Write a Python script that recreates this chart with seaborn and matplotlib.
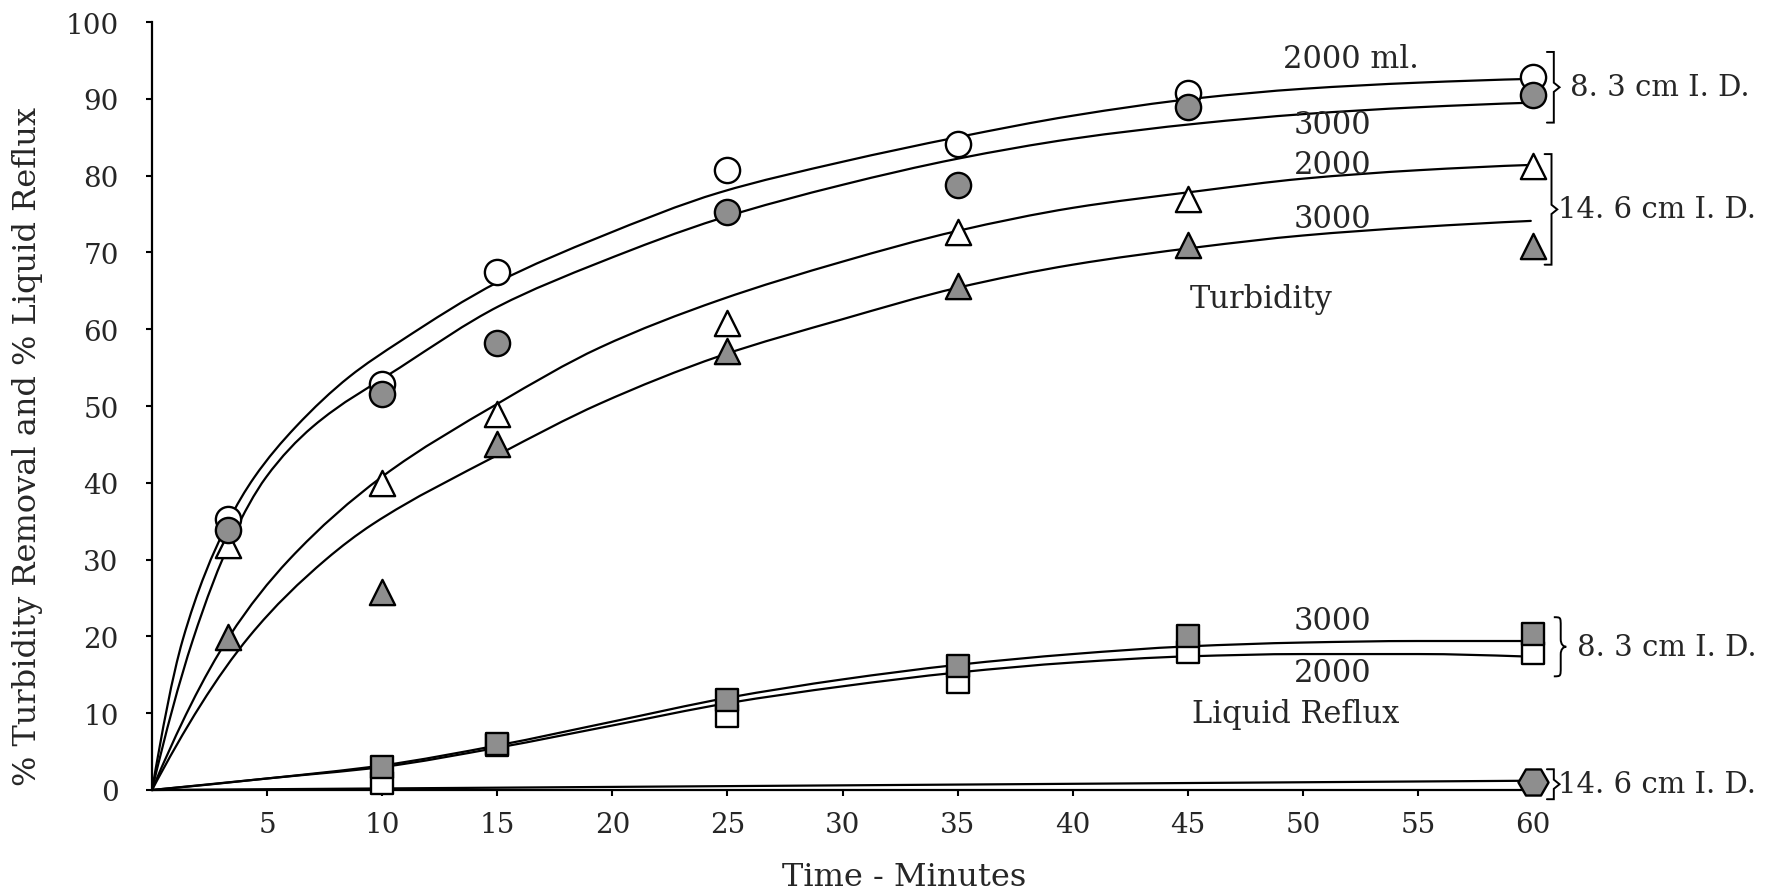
import numpy as np
import matplotlib
matplotlib.use("Agg")
import matplotlib.pyplot as plt
import seaborn as sns
from matplotlib.path import Path
from matplotlib.patches import PathPatch

# ---------------- measured points ----------------
time_min = [3.3, 10, 15, 25, 35, 45, 60]
turb_83_2000 = [35.3, 52.8, 67.5, 80.7, 84.1, 90.8, 92.8]
turb_83_3000 = [33.8, 51.6, 58.2, 75.3, 78.8, 88.9, 90.5]
turb_146_2000 = [31.9, 40.0, 48.9, 60.8, 72.6, 77.0, 81.3]
turb_146_3000 = [19.9, 25.8, 45.0, 57.1, 65.6, 71.0, 70.8]

reflux_time = [10, 15, 25, 35, 45, 60]
reflux_83_3000 = [3.0, 6.0, 11.7, 16.1, 20.0, 20.3]
reflux_83_2000 = [0.9, 5.8, 9.6, 14.1, 18.0, 17.8]
reflux_146_time = [60]
reflux_146 = [1.0]

# ---------------- hand-drawn fit lines (points along each line) ----------------
fit_a_t = [0, 1.33, 3.29, 4.44, 6.25, 8.57, 10.77, 15.07, 19.45, 24.66, 30, 35, 40, 45.5, 50, 55, 60]
fit_a_v = [0, 19.5, 34.8, 40.7, 47.3, 53.8, 58.4, 66.2, 72.0, 77.8, 81.8, 85.0, 87.8, 90.1, 91.3, 92.1, 92.6]
fit_b_t = [0, 1.77, 3.5, 4.95, 6.98, 10.77, 15.07, 19.45, 24.66, 30, 35, 40, 45.5, 50, 55, 60]
fit_b_v = [0, 19.5, 33.0, 40.7, 47.3, 55.0, 63.0, 68.7, 74.4, 78.8, 82.2, 84.8, 86.8, 88.0, 88.9, 89.5]
fit_c_t = [0, 3.36, 5.96, 10.0, 15.07, 19.45, 24.66, 30, 35, 40, 45.5, 50, 55, 60]
fit_c_v = [0, 20.0, 30.0, 40.8, 50.4, 57.6, 63.8, 68.8, 72.8, 75.8, 78.0, 79.6, 80.7, 81.4]
fit_d_t = [0, 4.23, 7.55, 9.58, 15.07, 19.45, 24.66, 30, 35, 40, 45.5, 50, 55, 59.9]
fit_d_v = [0, 20.0, 30.0, 34.6, 43.7, 50.3, 56.5, 61.3, 65.4, 68.4, 70.7, 72.2, 73.3, 74.1]

fit_r_t = [0, 5, 10, 15, 20, 25, 30, 35, 40, 45, 50, 55, 59.5]
fit_r3000_v = [0, 1.5, 3.2, 5.8, 8.9, 12.0, 14.4, 16.3, 17.7, 18.7, 19.2, 19.4, 19.4]
fit_r2000_v = [0, 1.5, 3.0, 5.5, 8.4, 11.3, 13.5, 15.3, 16.6, 17.4, 17.7, 17.7, 17.4]
fit_r146_t = [0, 59.5]
fit_r146_v = [0, 1.2]

x_ticks = list(range(5, 61, 5))
y_ticks = list(range(0, 101, 10))

# ---------------- style ----------------
sns.set_style("ticks")
plt.rcParams["font.family"] = ["DejaVu Serif"]
plt.rcParams["font.size"] = 19

INK = "black"
GREY = "#8e8e8e"
LW = 1.6


def smooth_path(t, v):
    """Cubic Bezier path through the given points (monotone Hermite tangents)."""
    t = np.asarray(t, float)
    v = np.asarray(v, float)
    if len(t) == 2:
        return Path(np.column_stack([t, v]), [Path.MOVETO, Path.LINETO])
    h = np.diff(t)
    d = np.diff(v) / h
    m = np.zeros_like(v)
    for k in range(1, len(v) - 1):
        if d[k - 1] * d[k] > 0:
            w1 = 2 * h[k] + h[k - 1]
            w2 = h[k] + 2 * h[k - 1]
            m[k] = (w1 + w2) / (w1 / d[k - 1] + w2 / d[k])

    def end_slope(h0, h1, d0, d1):
        s = ((2 * h0 + h1) * d0 - h0 * d1) / (h0 + h1)
        if np.sign(s) != np.sign(d0):
            return 0.0
        if np.sign(d0) != np.sign(d1) and abs(s) > abs(3 * d0):
            return 3 * d0
        return s

    m[0] = end_slope(h[0], h[1], d[0], d[1])
    m[-1] = end_slope(h[-1], h[-2], d[-1], d[-2])
    verts = [(t[0], v[0])]
    codes = [Path.MOVETO]
    for k in range(len(h)):
        verts += [(t[k] + h[k] / 3, v[k] + m[k] * h[k] / 3),
                  (t[k + 1] - h[k] / 3, v[k + 1] - m[k + 1] * h[k] / 3),
                  (t[k + 1], v[k + 1])]
        codes += [Path.CURVE4] * 3
    return Path(verts, codes)


fig = plt.figure(figsize=(17.88, 8.95), dpi=100)
ax = fig.add_axes([152 / 1788, 1 - 791 / 895, (1540 - 152) / 1788, (791 - 23) / 895])

# fit lines
for ft, fv in [(fit_a_t, fit_a_v), (fit_b_t, fit_b_v), (fit_c_t, fit_c_v), (fit_d_t, fit_d_v),
               (fit_r_t, fit_r3000_v), (fit_r_t, fit_r2000_v), (fit_r146_t, fit_r146_v)]:
    ax.add_patch(PathPatch(smooth_path(ft, fv), facecolor="none", edgecolor=INK,
                           lw=LW, zorder=2, clip_on=False, capstyle="round"))

# markers
common = dict(ax=ax, edgecolor=INK, linewidth=1.7, clip_on=False, legend=False)
sns.scatterplot(x=time_min, y=turb_83_2000, marker="o", s=330, facecolor="white", zorder=4, **common)
sns.scatterplot(x=time_min, y=turb_146_2000, marker="^", s=330, facecolor="white", zorder=4,
                joinstyle="round", **common)
sns.scatterplot(x=reflux_time, y=reflux_83_2000, marker="s", s=240, facecolor="white", zorder=4, **common)
sns.scatterplot(x=time_min, y=turb_83_3000, marker="o", s=330, facecolor=GREY, zorder=5, **common)
sns.scatterplot(x=time_min, y=turb_146_3000, marker="^", s=330, facecolor=GREY, zorder=5,
                joinstyle="round", **common)
sns.scatterplot(x=reflux_time, y=reflux_83_3000, marker="s", s=240, facecolor=GREY, zorder=5, **common)
sns.scatterplot(x=reflux_146_time, y=reflux_146, marker="H", s=470, facecolor=GREY, zorder=5, **common)

# axes
ax.set_xlim(0, 60.3)
ax.set_ylim(0, 100)
ax.set_xticks(x_ticks)
ax.set_yticks(y_ticks)
ax.set_xticklabels([str(v) for v in x_ticks])
ax.set_yticklabels([str(v) for v in y_ticks])
for side in ["top", "right"]:
    ax.spines[side].set_visible(False)
for side in ["left", "bottom"]:
    ax.spines[side].set_linewidth(1.6)
    ax.spines[side].set_color(INK)
ax.tick_params(axis="both", direction="out", length=4, width=1.5, color=INK, labelsize=20)
ax.tick_params(axis="y", pad=20)
ax.tick_params(axis="x", pad=11)

ax.set_xlabel("Time - Minutes", fontsize=23)
ax.xaxis.label.set_va("center")
ax.xaxis.set_label_coords(0.5418, -0.112)
ax.set_ylabel("% Turbidity Removal and % Liquid Reflux", fontsize=23)
ax.yaxis.label.set_va("center")
ax.yaxis.set_label_coords(-0.090, 0.448)

# curve labels
txt = dict(fontsize=22, ha="center", va="center", zorder=6)
ax.text(52.1, 95.2, "2000 ml.", **txt)
ax.text(51.3, 86.6, "3000", **txt)
ax.text(51.3, 81.4, "2000", **txt)
ax.text(51.3, 74.4, "3000", **txt)
ax.text(48.2, 64.0, "Turbidity", **txt)
ax.text(51.3, 22.1, "3000", **txt)
ax.text(51.3, 15.3, "2000", **txt)
ax.text(49.7, 9.9, "Liquid Reflux", **txt)


def square_bracket(x, y_lo, y_hi, label, x_text):
    w = 0.3
    ym = 0.5 * (y_lo + y_hi)
    ax.plot([x - w, x, x, x + 0.25, x, x, x - w],
            [y_hi, y_hi, ym + 0.6, ym, ym - 0.6, y_lo, y_lo],
            color=INK, lw=1.4, clip_on=False, solid_joinstyle="miter")
    ax.text(x_text, ym, label, fontsize=21, ha="left", va="center", clip_on=False)


def curly_bracket(x, y_lo, y_hi, label, x_text):
    w = 0.3
    ym = 0.5 * (y_lo + y_hi)
    verts = [(x, y_hi),
             (x + w, y_hi), (x + w, y_hi), (x + w, y_hi - 1.2),
             (x + w, ym + 1.0),
             (x + w, ym + 0.3), (x + 1.4 * w, ym), (x + 1.8 * w, ym),
             (x + 1.4 * w, ym), (x + w, ym - 0.3), (x + w, ym - 1.0),
             (x + w, y_lo + 1.2),
             (x + w, y_lo), (x + w, y_lo), (x, y_lo)]
    codes = [Path.MOVETO,
             Path.CURVE4, Path.CURVE4, Path.CURVE4,
             Path.LINETO,
             Path.CURVE4, Path.CURVE4, Path.CURVE4,
             Path.CURVE4, Path.CURVE4, Path.CURVE4,
             Path.LINETO,
             Path.CURVE4, Path.CURVE4, Path.CURVE4]
    ax.add_patch(PathPatch(Path(verts, codes), facecolor="none", edgecolor=INK,
                           lw=1.4, clip_on=False))
    ax.text(x_text, ym, label, fontsize=21, ha="left", va="center", clip_on=False)


square_bracket(60.9, 86.9, 96.1, "8. 3 cm I. D.", 61.6)
square_bracket(60.8, 68.4, 82.8, "14. 6 cm I. D.", 61.1)
curly_bracket(60.9, 14.8, 22.5, "8. 3 cm I. D.", 61.9)
square_bracket(60.9, -1.2, 2.7, "14. 6 cm I. D.", 61.1)

fig.savefig("out.png", dpi=100, facecolor="white")
